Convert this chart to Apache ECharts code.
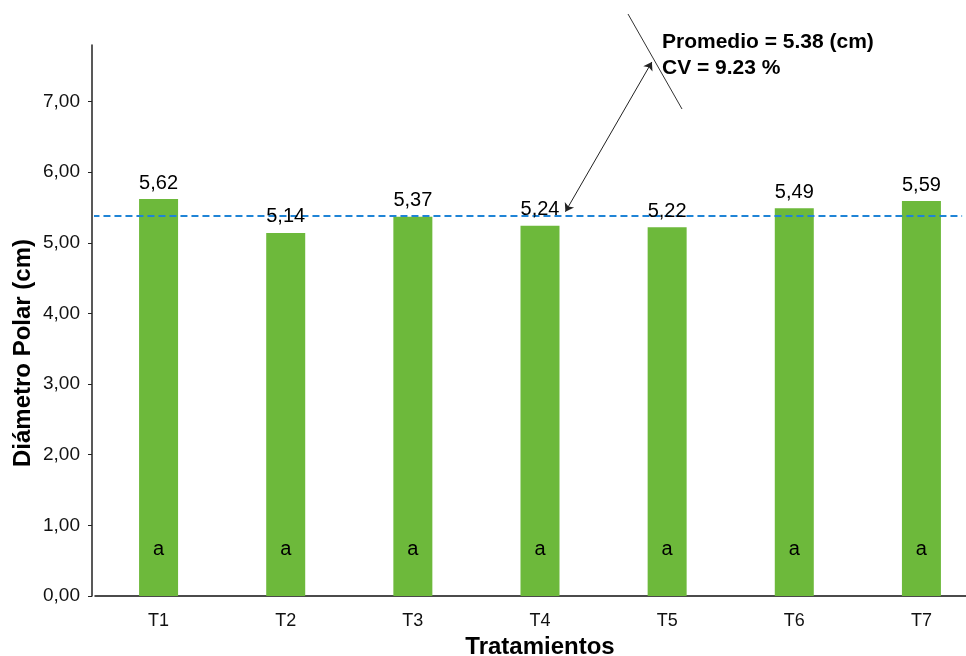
<!DOCTYPE html>
<html>
<head>
<meta charset="utf-8">
<script src="https://cdn.jsdelivr.net/npm/echarts@6/dist/echarts.min.js"></script>
<style>
  html, body { margin: 0; padding: 0; background: #fff; }
  #chart { width: 966px; height: 656px; }
</style>
</head>
<body>
<div id="chart"></div>
<script>
// Diámetro polar por tratamiento
const categories = ['T1', 'T2', 'T3', 'T4', 'T5', 'T6', 'T7'];
const values = [5.62, 5.14, 5.37, 5.24, 5.22, 5.49, 5.59];
const letters = ['a', 'a', 'a', 'a', 'a', 'a', 'a'];
const yTicks = [0, 1, 2, 3, 4, 5, 6, 7];
const mean = 5.38;
const cv = 9.23;

const fmt = v => v.toFixed(2).replace('.', ',');
const FONT = '"Liberation Sans", Arial, sans-serif';

const chart = echarts.init(document.getElementById('chart'), null, { renderer: 'canvas' });

const option = {
  animation: false,
  backgroundColor: '#ffffff',
  textStyle: { fontFamily: FONT, color: '#000' },
  grid: {
    left: 95, top: 45, width: 890, height: 551,
    containLabel: false,
    outerBoundsMode: 'none'
  },
  xAxis: [
    {
      type: 'category',
      data: categories,
      boundaryGap: true,
      axisLine: { lineStyle: { color: '#111', width: 1.5 } },
      axisTick: { show: false },
      axisLabel: { fontSize: 18, color: '#111', margin: 16, fontFamily: FONT },
      name: 'Tratamientos',
      nameLocation: 'middle',
      nameGap: 31,
      nameTextStyle: { fontSize: 24, fontWeight: 'bold', color: '#000', fontFamily: FONT, verticalAlign: 'top' }
    },
    {
      // continuous companion axis for the mean line and arrow
      type: 'value',
      min: -0.5,
      max: 6.5,
      show: false
    }
  ],
  yAxis: {
    type: 'value',
    min: 0,
    max: 7.8,
    interval: 1,
    offset: 3,
    splitLine: { show: false },
    axisLine: { show: true, onZero: false, lineStyle: { color: '#222', width: 1.5 } },
    axisTick: { show: true, length: 4, customValues: yTicks, lineStyle: { color: '#222' } },
    axisLabel: {
      fontSize: 19, color: '#111', margin: 12, fontFamily: FONT,
      customValues: yTicks,
      formatter: v => fmt(v)
    }
  },
  graphic: [
    {
      type: 'text',
      x: 23, y: 353,
      rotation: Math.PI / 2,
      style: {
        text: 'Diámetro Polar (cm)',
        fontSize: 24, fontWeight: 'bold', fontFamily: FONT,
        fill: '#000', align: 'center', verticalAlign: 'middle'
      }
    },
    {
      type: 'line',
      shape: { x1: 628, y1: 14, x2: 682, y2: 109 },
      style: { stroke: '#333', lineWidth: 1 }
    },
    {
      type: 'text',
      x: 662, y: 42,
      style: {
        text: 'Promedio = ' + mean.toFixed(2) + ' (cm)',
        fontSize: 21, fontWeight: 'bold', fontFamily: FONT,
        fill: '#000', verticalAlign: 'middle'
      }
    },
    {
      type: 'text',
      x: 662, y: 68,
      style: {
        text: 'CV = ' + cv.toFixed(2) + ' %',
        fontSize: 21, fontWeight: 'bold', fontFamily: FONT,
        fill: '#000', verticalAlign: 'middle'
      }
    }
  ],
  series: [
    {
      // bars with significance letters near the base
      type: 'bar',
      data: values,
      barWidth: 39,
      itemStyle: { color: '#6db93b' },
      label: {
        show: true,
        position: 'insideBottom',
        distance: 37,
        fontSize: 20,
        color: '#000',
        fontFamily: FONT,
        formatter: p => letters[p.dataIndex]
      },
      z: 2
    },
    {
      // transparent overlay carrying the value labels
      type: 'bar',
      data: values,
      barWidth: 39,
      barGap: '-100%',
      itemStyle: { color: 'rgba(0,0,0,0)' },
      label: {
        show: true,
        position: 'top',
        distance: 6,
        fontSize: 20,
        color: '#000',
        fontFamily: FONT,
        formatter: p => fmt(p.value)
      },
      z: 4
    },
    {
      // overall mean as a dashed reference line
      type: 'line',
      xAxisIndex: 1,
      data: [[-0.52, mean], [6.32, mean]],
      symbol: 'none',
      clip: false,
      lineStyle: { color: '#1f84d6', width: 2, type: [7, 4] },
      z: 3,
      markLine: {
        silent: true,
        symbol: ['arrow', 'arrow'],
        symbolSize: 8,
        label: { show: false },
        lineStyle: { color: '#222', width: 1, type: 'solid' },
        data: [[{ coord: [3.2, 5.44] }, { coord: [3.88, 7.56] }]]
      }
    }
  ]
};

chart.setOption(option);
</script>
</body>
</html>
